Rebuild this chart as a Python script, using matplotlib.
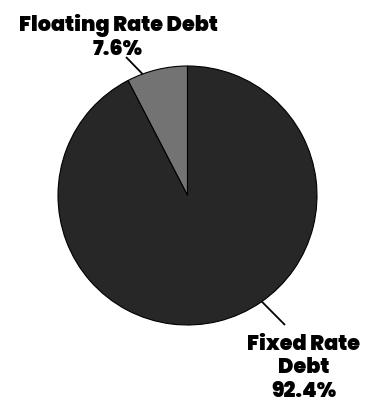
import numpy as np
import matplotlib.pyplot as plt

# debt mix, counter-clockwise from 12 o'clock
labels = ["Floating Rate Debt", "Fixed Rate\nDebt"]
shares = [7.6, 92.4]
colors = ["#737373", "#272727"]

W, H = 374, 403
CX, CY, R = 187.5, 195.5, 129.5

fig = plt.figure(figsize=(W / 100, H / 100), dpi=100)
ax = fig.add_axes([0, 0, 1, 1])

# y axis points down, so run the pie clockwise from -90 in data space
ax.pie(
    shares,
    colors=colors,
    startangle=-90,
    counterclock=False,
    center=(CX, CY),
    radius=R,
    frame=True,
    wedgeprops=dict(edgecolor="black", linewidth=0.8),
)
ax.set_xlim(0, W)
ax.set_ylim(H, 0)
ax.set_aspect("equal")
ax.axis("off")

font = dict(family=["Poppins", "Lato", "DejaVu Sans"], fontweight="black",
            fontsize=15)


def edge_point(deg):
    a = np.radians(deg)
    return CX + R * np.cos(a), CY - R * np.sin(a)


# (edge angle, leader end, text anchor)
placements = [
    (110.3, (126, 57), (118, 55)),
    (-55.0, (285, 325), (304, 397)),
]

for label, share, (ang, tail, anchor) in zip(labels, shares, placements):
    x0, y0 = edge_point(ang)
    ax.plot([x0, tail[0]], [y0, tail[1]], color="black", lw=1.3,
            solid_capstyle="butt")
    ax.text(anchor[0], anchor[1], f"{label}\n{share:.1f}%", ha="center",
            va="baseline", ma="center", linespacing=1.1, **font)

fig.savefig("out.png", dpi=100)
